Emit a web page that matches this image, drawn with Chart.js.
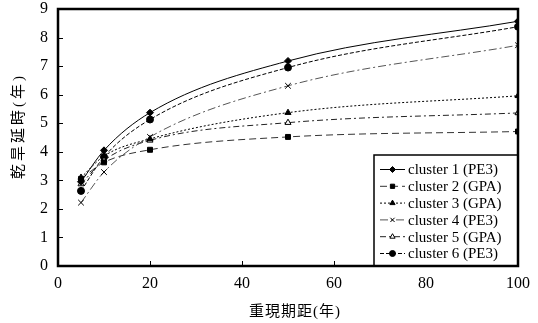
<!DOCTYPE html>
<html>
<head>
<meta charset="utf-8">
<script src="https://cdn.jsdelivr.net/npm/chart.js@4/dist/chart.umd.min.js"></script>
<style>
  html, body { margin: 0; padding: 0; background: #fff; }
  #wrap { width: 538px; height: 323px; }
</style>
</head>
<body>
<div id="wrap"><canvas id="myChart" width="538" height="323"></canvas></div>
<script>
const returnPeriods = [5, 10, 20, 50, 100];
const seriesNames = ['cluster 1 (PE3)', 'cluster 2 (GPA)', 'cluster 3 (GPA)', 'cluster 4 (PE3)', 'cluster 5 (GPA)', 'cluster 6 (PE3)'];
const cluster1 = [2.95, 4.05, 5.37, 7.18, 8.57];
const cluster2 = [3.05, 3.63, 4.07, 4.52, 4.71];
const cluster3 = [3.1, 3.85, 4.45, 5.37, 5.96];
const cluster4 = [2.22, 3.29, 4.52, 6.31, 7.73];
const cluster5 = [2.87, 3.7, 4.4, 5.02, 5.36];
const cluster6 = [2.63, 3.82, 5.13, 6.95, 8.38];
const xTicks = [0, 20, 40, 60, 80, 100];
const yTicks = [0, 1, 2, 3, 4, 5, 6, 7, 8, 9];
const xTitle = '重現期距(年)';
const yTitle = '乾旱延時(年)';

const serif = '"Liberation Serif", "Times New Roman", serif';
const cjk = '"Liberation Serif", "Noto Sans CJK TC", serif';

function pts(vals) {
    return returnPeriods.map((x, i) => ({ x: x, y: vals[i] }));
}

const styles = [
    { color: '#000', dash: [], style: 'rectRot', fill: '#000', r: 3.5 },
    { color: '#333', dash: [7, 4], style: 'rect', fill: '#000', r: 3.5 },
    { color: '#000', dash: [2, 2], style: 'triangle', fill: '#000', r: 3.5 },
    { color: '#555', dash: [8, 3, 2, 3], style: 'crossRot', fill: '#000', r: 4 },
    { color: '#222', dash: [6, 3, 2, 3], style: 'triangle', fill: '#fff', r: 3.5 },
    { color: '#000', dash: [4, 2], style: 'circle', fill: '#000', r: 3.5 }
];
const allValues = [cluster1, cluster2, cluster3, cluster4, cluster5, cluster6];

const datasets = allValues.map((vals, i) => ({
    label: seriesNames[i],
    data: pts(vals),
    borderColor: styles[i].color,
    borderWidth: 1,
    borderDash: styles[i].dash,
    pointStyle: styles[i].style,
    pointRadius: styles[i].r,
    pointBackgroundColor: styles[i].fill,
    pointBorderColor: '#000',
    pointBorderWidth: 1,
    cubicInterpolationMode: 'monotone',
    fill: false
}));

// frame, inward ticks, axis titles and legend box inside the plot
const framePlugin = {
    id: 'frame',
    afterDraw(chart) {
        const ctx = chart.ctx;
        const a = chart.chartArea;
        const xs = chart.scales.x, ys = chart.scales.y;
        ctx.save();
        ctx.strokeStyle = '#000';
        ctx.setLineDash([]);
        ctx.lineWidth = 1;
        xTicks.forEach(v => {
            const px = Math.round(xs.getPixelForValue(v)) + 0.5;
            ctx.beginPath(); ctx.moveTo(px, a.bottom); ctx.lineTo(px, a.bottom - 5); ctx.stroke();
        });
        yTicks.forEach(v => {
            const py = Math.round(ys.getPixelForValue(v)) + 0.5;
            ctx.beginPath(); ctx.moveTo(a.left, py); ctx.lineTo(a.left + 5, py); ctx.stroke();
        });

        // axis titles
        ctx.fillStyle = '#000';
        ctx.font = '15px ' + cjk;
        ctx.textAlign = 'center';
        ctx.textBaseline = 'middle';
        ctx.letterSpacing = '1px';
        ctx.fillText(xTitle, 295, 312);
        ctx.save();
        ctx.translate(19, 126);
        ctx.rotate(-Math.PI / 2);
        ctx.letterSpacing = '3px';
        ctx.fillText(yTitle, 0, 0);
        ctx.restore();
        ctx.letterSpacing = '0px';

        // legend
        const lx = 374, ly = 155, lw = a.right - lx, lh = a.bottom - ly;
        ctx.fillStyle = '#fff';
        ctx.fillRect(lx, ly, lw, lh);
        ctx.lineWidth = 1.5;
        ctx.strokeRect(lx, ly, lw, lh);
        ctx.font = '15px ' + serif;
        ctx.textBaseline = 'middle';
        ctx.textAlign = 'left';
        chart.data.datasets.forEach((ds, i) => {
            const cy = 169.5 + i * 16.8;
            ctx.strokeStyle = ds.borderColor;
            ctx.lineWidth = 1;
            ctx.setLineDash(ds.borderDash);
            ctx.beginPath(); ctx.moveTo(380, cy); ctx.lineTo(405, cy); ctx.stroke();
            ctx.setLineDash([]);
            ctx.fillStyle = ds.pointBackgroundColor;
            ctx.strokeStyle = '#000';
            Chart.helpers.drawPoint(ctx, { pointStyle: ds.pointStyle, radius: 3, rotation: 0, borderWidth: 1 }, 392.5, cy);
            ctx.fillStyle = '#000';
            ctx.fillText(ds.label, 408, cy + 1);
        });

        ctx.lineWidth = 2.5;
        ctx.strokeStyle = '#000';
        ctx.strokeRect(a.left, a.top, a.right - a.left, a.bottom - a.top);
        ctx.restore();
    }
};

new Chart(document.getElementById('myChart').getContext('2d'), {
    type: 'line',
    data: { datasets: datasets },
    options: {
        responsive: false,
        animation: false,
        layout: { padding: { top: 9, right: 20, left: 0, bottom: 0 } },
        plugins: { legend: { display: false }, tooltip: { enabled: false } },
        scales: {
            x: {
                type: 'linear',
                min: 0, max: 100,
                afterFit(s) { s.height = 57; s.paddingLeft = 0; s.paddingRight = 0; },
                grid: { display: false, drawTicks: false },
                border: { display: false },
                ticks: { stepSize: 20, color: '#000', font: { family: serif, size: 16 }, padding: 8 },
                title: { display: false, text: xTitle }
            },
            y: {
                min: 0, max: 9,
                afterFit(s) { s.width = 58; s.paddingTop = 0; s.paddingBottom = 0; },
                grid: { display: false, drawTicks: false },
                border: { display: false },
                ticks: { stepSize: 1, color: '#000', font: { family: serif, size: 16 }, padding: 10 },
                title: { display: false, text: yTitle }
            }
        }
    },
    plugins: [framePlugin]
});
</script>
</body>
</html>
